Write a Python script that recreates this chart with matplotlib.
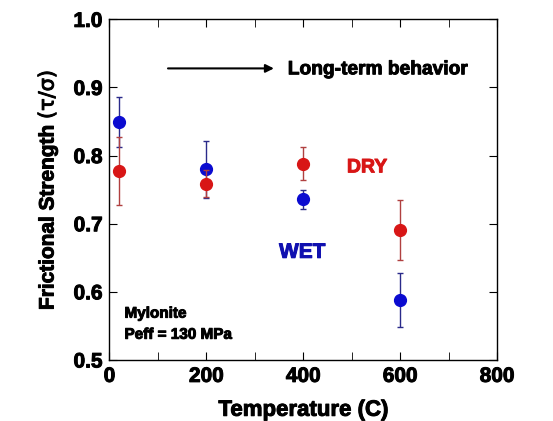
import matplotlib
matplotlib.use("Agg")
import matplotlib.pyplot as plt
import matplotlib.patheffects as pe
from matplotlib.ticker import MultipleLocator

# === Data ===
temps = [20, 200, 400, 600]
dry_mu = [0.778, 0.759, 0.788, 0.691]
dry_err = [0.050, 0.020, 0.024, 0.044]
wet_mu = [0.849, 0.780, 0.736, 0.588]
wet_err = [0.037, 0.042, 0.014, 0.039]

red = "#d81616"
blue = "#0b0bd0"

plt.rcParams["font.family"] = ["Liberation Sans", "DejaVu Sans"]
plt.rcParams["mathtext.fontset"] = "custom"
plt.rcParams["mathtext.rm"] = "DejaVu Sans"
plt.rcParams["mathtext.it"] = "DejaVu Sans"
plt.rcParams["mathtext.bf"] = "DejaVu Sans:bold"

# slightly heavier strokes to mimic the blacker font of the original
def heavy(c="black"):
    return [pe.withStroke(linewidth=0.7, foreground=c)]

fig = plt.figure(figsize=(5.53, 4.21), dpi=100)
ax = fig.add_axes([0.198, 0.145, 0.701, 0.809])

# === Series ===
ax.errorbar(temps, wet_mu, yerr=wet_err, fmt="o", color=blue, ecolor="#2a2a8a",
            elinewidth=1.0, capsize=2.5, capthick=1.0, markersize=8.5, zorder=3)
ax.errorbar(temps, dry_mu, yerr=dry_err, fmt="o", color=red, ecolor="#b04040",
            elinewidth=1.0, capsize=2.5, capthick=1.0, markersize=8.5, zorder=4)

# === Axes ===
ax.set_xlim(0, 800)
ax.set_ylim(0.5, 1.0)
ax.xaxis.set_major_locator(MultipleLocator(200))
ax.xaxis.set_minor_locator(MultipleLocator(100))
ax.yaxis.set_major_locator(MultipleLocator(0.1))
ax.tick_params(which="both", direction="in", top=True, right=True, labelsize=15, pad=5)
ax.tick_params(which="both", length=6)
for s in ax.spines.values():
    s.set_linewidth(1.0)
for lab in ax.get_xticklabels() + ax.get_yticklabels():
    lab.set_fontweight("bold")
    lab.set_path_effects(heavy())

ax.set_xlabel("Temperature (C)", fontsize=16, fontweight="bold", labelpad=10,
              path_effects=heavy())
ax.set_ylabel(r"Frictional Strength $(\tau/\sigma)$", fontsize=15, fontweight="bold",
              labelpad=10, path_effects=heavy())

# === Annotations ===
ax.annotate("", xy=(345, 0.928), xytext=(115, 0.928),
            arrowprops=dict(arrowstyle="-|>", color="black", lw=1.5, mutation_scale=12))
ax.text(368, 0.926, "Long-term behavior", fontsize=13.8, fontweight="bold", va="center",
        path_effects=heavy())
ax.text(490, 0.782, "DRY", fontsize=14, fontweight="bold", color=red, va="center",
        path_effects=heavy(red))
ax.text(350, 0.658, "WET", fontsize=15, fontweight="bold", color="#1010b0", va="center",
        path_effects=heavy("#1010b0"))
ax.text(31, 0.568, "Mylonite", fontsize=11, fontweight="bold", va="center",
        path_effects=heavy())
ax.text(31, 0.537, "Peff = 130 MPa", fontsize=11, fontweight="bold", va="center",
        path_effects=heavy())

fig.savefig("out.png", dpi=100)
